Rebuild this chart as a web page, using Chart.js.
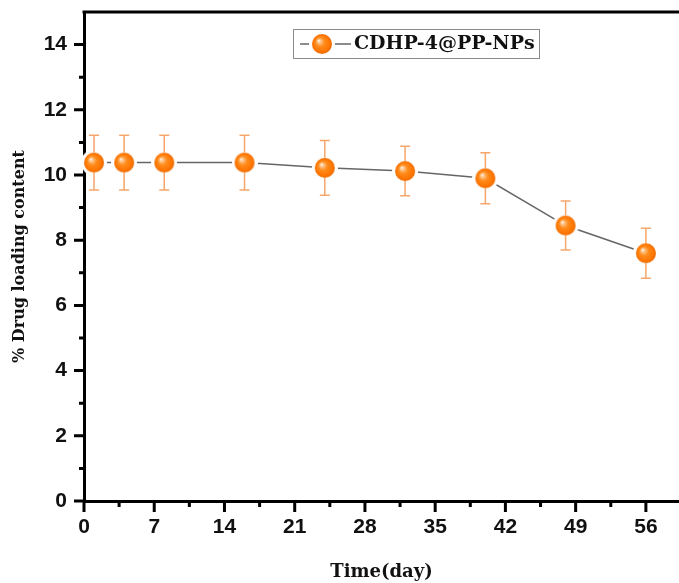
<!DOCTYPE html>
<html>
<head>
<meta charset="utf-8">
<script src="https://cdn.jsdelivr.net/npm/chart.js@4.4.0/dist/chart.umd.min.js"></script>
<style>
  html, body { margin: 0; padding: 0; background: #fff; }
  #wrap { width: 679px; height: 583px; }
</style>
</head>
<body>
<div id="wrap"><canvas id="drugChart" width="679" height="583"></canvas></div>
<script>
// data
const days = [1, 4, 8, 16, 24, 32, 40, 48, 56];
const loading = [10.38, 10.38, 10.38, 10.38, 10.22, 10.12, 9.9, 8.45, 7.6];
const loadingErr = [0.84, 0.84, 0.84, 0.84, 0.84, 0.76, 0.78, 0.75, 0.77];
const seriesName = 'CDHP-4@PP-NPs';
const xTicks = [0, 7, 14, 21, 28, 35, 42, 49, 56];
const xMinor = [3.5, 10.5, 17.5, 24.5, 31.5, 38.5, 45.5, 52.5];
const yTicks = [0, 2, 4, 6, 8, 10, 12, 14];
const yMinor = [1, 3, 5, 7, 9, 11, 13];

// shiny orange ball used as the marker
function makeBall(r, ring) {
    const c = document.createElement('canvas');
    const s = (r + ring) * 2;
    c.width = s; c.height = s;
    const g = c.getContext('2d');
    const m = s / 2;
    g.beginPath();
    g.arc(m, m, r + ring, 0, Math.PI * 2);
    g.fillStyle = '#fff';
    g.fill();
    const grad = g.createRadialGradient(m - 3.5, m - 3.5, 0, m, m, r);
    grad.addColorStop(0, '#fffaf2');
    grad.addColorStop(0.18, '#ffc48a');
    grad.addColorStop(0.45, '#ff8c1c');
    grad.addColorStop(0.85, '#ff7400');
    grad.addColorStop(1, '#e86a00');
    g.beginPath();
    g.arc(m, m, r, 0, Math.PI * 2);
    g.fillStyle = grad;
    g.fill();
    return c;
}
const ball = makeBall(10, 3);

const tickFont = { family: '"Liberation Sans", Arial, sans-serif', size: 21, weight: 'bold' };
const titleFont = { family: '"DejaVu Serif", serif', weight: 'bold' };

function noPad(s) {
    s.paddingTop = 0; s.paddingBottom = 0;
    s.paddingLeft = 0; s.paddingRight = 0;
}

const extras = {
    id: 'extras',
    afterDatasetsDraw(chart) {
        const ctx = chart.ctx;
        const xs = chart.scales.x, ys = chart.scales.y;
        const area = chart.chartArea;
        ctx.save();
        // error bars
        ctx.strokeStyle = '#f6a66a';
        ctx.lineWidth = 1.5;
        days.forEach((d, i) => {
            const px = xs.getPixelForValue(d);
            const pc = ys.getPixelForValue(loading[i]);
            const pt = ys.getPixelForValue(loading[i] + loadingErr[i]);
            const pb = ys.getPixelForValue(loading[i] - loadingErr[i]);
            ctx.beginPath();
            ctx.moveTo(px, pt); ctx.lineTo(px, pc - 10);
            ctx.moveTo(px, pc + 10); ctx.lineTo(px, pb);
            ctx.moveTo(px - 5, pt); ctx.lineTo(px + 5, pt);
            ctx.moveTo(px - 5, pb); ctx.lineTo(px + 5, pb);
            ctx.stroke();
        });
        // tick marks
        ctx.strokeStyle = '#000';
        ctx.lineWidth = 3;
        ctx.beginPath();
        xTicks.forEach(v => { const p = xs.getPixelForValue(v); ctx.moveTo(p, area.bottom); ctx.lineTo(p, area.bottom + 11); });
        xMinor.forEach(v => { const p = xs.getPixelForValue(v); ctx.moveTo(p, area.bottom); ctx.lineTo(p, area.bottom + 6); });
        yTicks.forEach(v => { const p = ys.getPixelForValue(v); ctx.moveTo(area.left, p); ctx.lineTo(area.left - 10, p); });
        yMinor.forEach(v => { const p = ys.getPixelForValue(v); ctx.moveTo(area.left, p); ctx.lineTo(area.left - 5, p); });
        ctx.stroke();
        // top frame line
        ctx.beginPath();
        ctx.moveTo(area.left - 1.5, area.top);
        ctx.lineTo(area.right, area.top);
        ctx.stroke();
        // legend
        ctx.strokeStyle = '#8a8a8a';
        ctx.lineWidth = 1;
        ctx.strokeRect(293.5, 29.5, 246, 29);
        ctx.strokeStyle = '#666';
        ctx.lineWidth = 1.5;
        ctx.beginPath();
        ctx.moveTo(300, 44); ctx.lineTo(351, 44);
        ctx.stroke();
        ctx.drawImage(ball, 322 - ball.width / 2, 44 - ball.height / 2);
        ctx.fillStyle = '#111';
        ctx.font = 'bold 19px "DejaVu Serif", serif';
        ctx.textBaseline = 'middle';
        ctx.textAlign = 'left';
        ctx.fillText(seriesName, 354, 44);
        ctx.restore();
    }
};

const ctx = document.getElementById('drugChart').getContext('2d');
const chart = new Chart(ctx, {
    type: 'line',
    data: {
        datasets: [{
            label: seriesName,
            data: days.map((d, i) => ({ x: d, y: loading[i] })),
            borderColor: '#666',
            borderWidth: 1.5,
            pointStyle: ball,
            pointRadius: 10,
            tension: 0,
            clip: false
        }]
    },
    options: {
        responsive: false,
        animation: false,
        events: [],
        layout: { autoPadding: false, padding: { top: 12, right: 0, bottom: 0, left: 0 } },
        plugins: { legend: { display: false }, tooltip: { enabled: false } },
        scales: {
            x: {
                type: 'linear',
                min: 0,
                max: 59.3,
                afterBuildTicks: s => { s.ticks = xTicks.map(v => ({ value: v })); },
                afterFit: s => { s.height = 82; noPad(s); },
                grid: { display: false, drawTicks: false },
                border: { display: true, color: '#000', width: 3 },
                ticks: { color: '#111', font: tickFont, padding: 14, maxRotation: 0 },
                title: { display: true, text: 'Time(day)', color: '#111', font: { ...titleFont, size: 18 }, padding: { top: 2, bottom: 0 } }
            },
            y: {
                min: 0,
                max: 15,
                afterBuildTicks: s => { s.ticks = yTicks.map(v => ({ value: v })); },
                afterFit: s => { s.width = 84; noPad(s); },
                grid: { display: false, drawTicks: false },
                border: { display: true, color: '#000', width: 3 },
                ticks: { color: '#111', font: tickFont, padding: 17 },
                title: { display: true, text: '% Drug loading content', color: '#111', font: { ...titleFont, size: 16 }, padding: { top: 10, bottom: 0 } }
            }
        }
    },
    plugins: [extras]
});
</script>
</body>
</html>
